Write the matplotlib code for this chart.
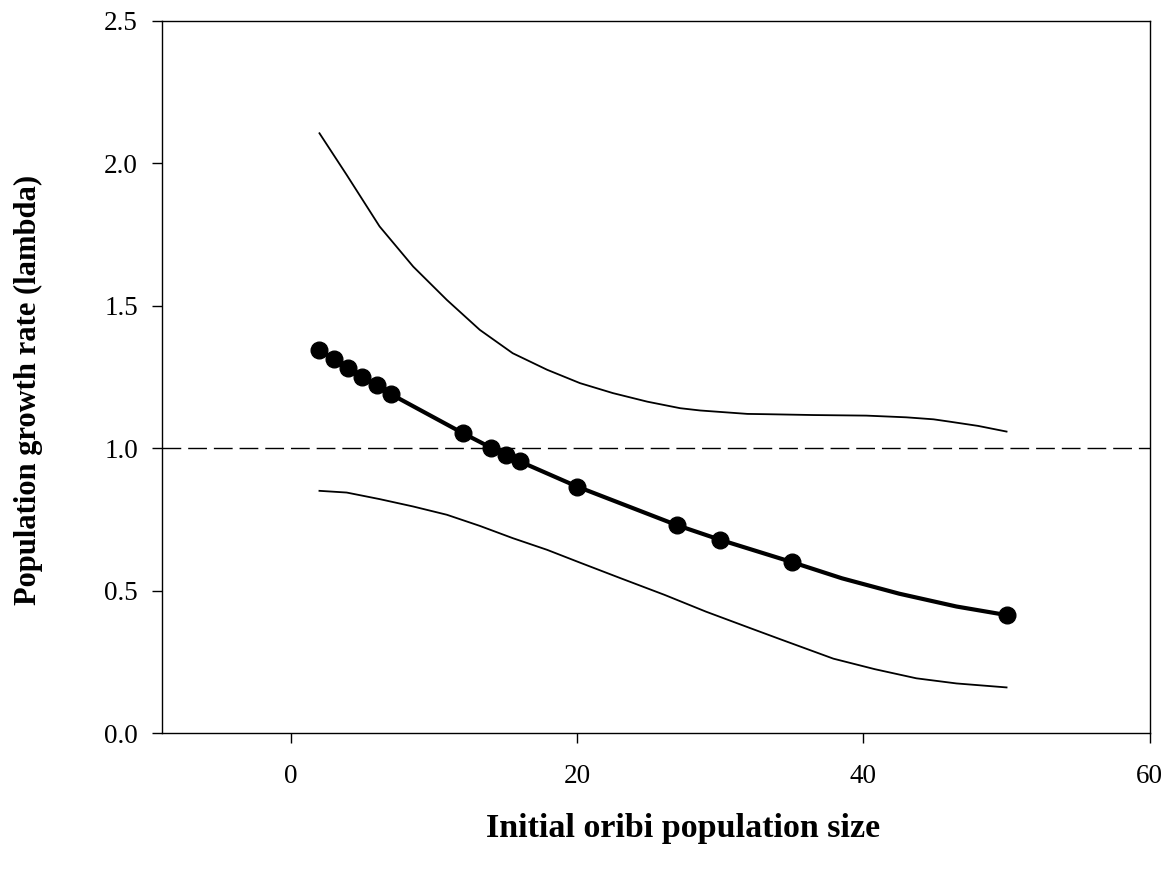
import matplotlib
matplotlib.use("Agg")
import matplotlib.pyplot as plt

# Observed data points
pop_size = [2, 3, 4, 5, 6, 7, 12, 14, 15, 16, 20, 27, 30, 35, 50]
lam = [1.347, 1.313, 1.283, 1.250, 1.221, 1.190, 1.054, 1.002, 0.978, 0.954,
       0.866, 0.730, 0.679, 0.601, 0.415]

# Fitted curve
fit_x = [2, 3, 4, 5, 6, 7, 12, 14, 15, 16, 20, 27, 30, 35, 38.5, 42.5, 46.5, 50]
fit_y = [1.347, 1.313, 1.283, 1.250, 1.221, 1.190, 1.054, 1.002, 0.978, 0.954,
         0.866, 0.730, 0.679, 0.601, 0.544, 0.490, 0.445, 0.415]

# Upper confidence limit
upper_x = [2.0, 3.9, 6.2, 8.55, 10.9, 13.2, 15.5, 17.9, 20.2, 22.5, 24.9, 27.2,
           28.6, 31.9, 33.2, 36.5, 40.2, 43.0, 44.9, 46.0, 48.0, 50.0]
upper_y = [2.106, 1.960, 1.779, 1.638, 1.521, 1.416, 1.334, 1.276, 1.229, 1.194, 1.164, 1.141,
           1.133, 1.121, 1.120, 1.117, 1.115, 1.109, 1.102, 1.094, 1.079, 1.059]

# Lower confidence limit
lower_x = [2.0, 3.9, 6.2, 8.55, 10.9, 13.2, 15.5, 17.9, 20.2, 23.0, 26.1, 29.0,
           32.1, 34.2, 37.9, 40.8, 43.7, 46.5, 50.0]
lower_y = [0.851, 0.845, 0.822, 0.796, 0.767, 0.728, 0.685, 0.644, 0.599, 0.545, 0.486, 0.427,
           0.369, 0.330, 0.262, 0.225, 0.193, 0.175, 0.161]

ref_level = 1.0

plt.rcParams['font.family'] = ['Liberation Serif', 'DejaVu Serif']

fig = plt.figure(figsize=(11.71, 8.75), dpi=100)
ax = fig.add_axes([162/1171, 1 - 733.3/875, (1149.7 - 162)/1171, (733.3 - 21)/875])

ax.axhline(ref_level, color='black', lw=1.0, dashes=(13.5, 5))
ax.plot(upper_x, upper_y, color='black', lw=1.3)
ax.plot(lower_x, lower_y, color='black', lw=1.3)
ax.plot(fit_x, fit_y, color='black', lw=3.0, solid_capstyle='round', solid_joinstyle='round')
ax.plot(pop_size, lam, 'o', color='black', markersize=12)

ax.set_xlim(-9, 60)
ax.set_ylim(0, 2.5)
ax.set_xticks([0, 20, 40, 60])
ax.set_yticks([0.0, 0.5, 1.0, 1.5, 2.0, 2.5])
ax.set_yticklabels(['0.0', '0.5', '1.0', '1.5', '2.0', '2.5'])

for s in ax.spines.values():
    s.set_linewidth(1.0)
ax.tick_params(direction='out', length=7.2, width=1.0, labelsize=19.5)
ax.tick_params(axis='x', pad=15)
ax.tick_params(axis='y', pad=10)

ax.set_xlabel('Initial oribi population size', fontsize=24.5, fontweight='bold', va='center')
ax.set_ylabel('Population growth rate (lambda)', fontsize=22, fontweight='bold', va='center')
ax.xaxis.set_label_coords((683 - 162) / 987.7, (733.3 - 829) / 712.3)
ax.yaxis.set_label_coords((28 - 162) / 987.7, (733.3 - 390) / 712.3)

fig.savefig('out.png', dpi=100)
